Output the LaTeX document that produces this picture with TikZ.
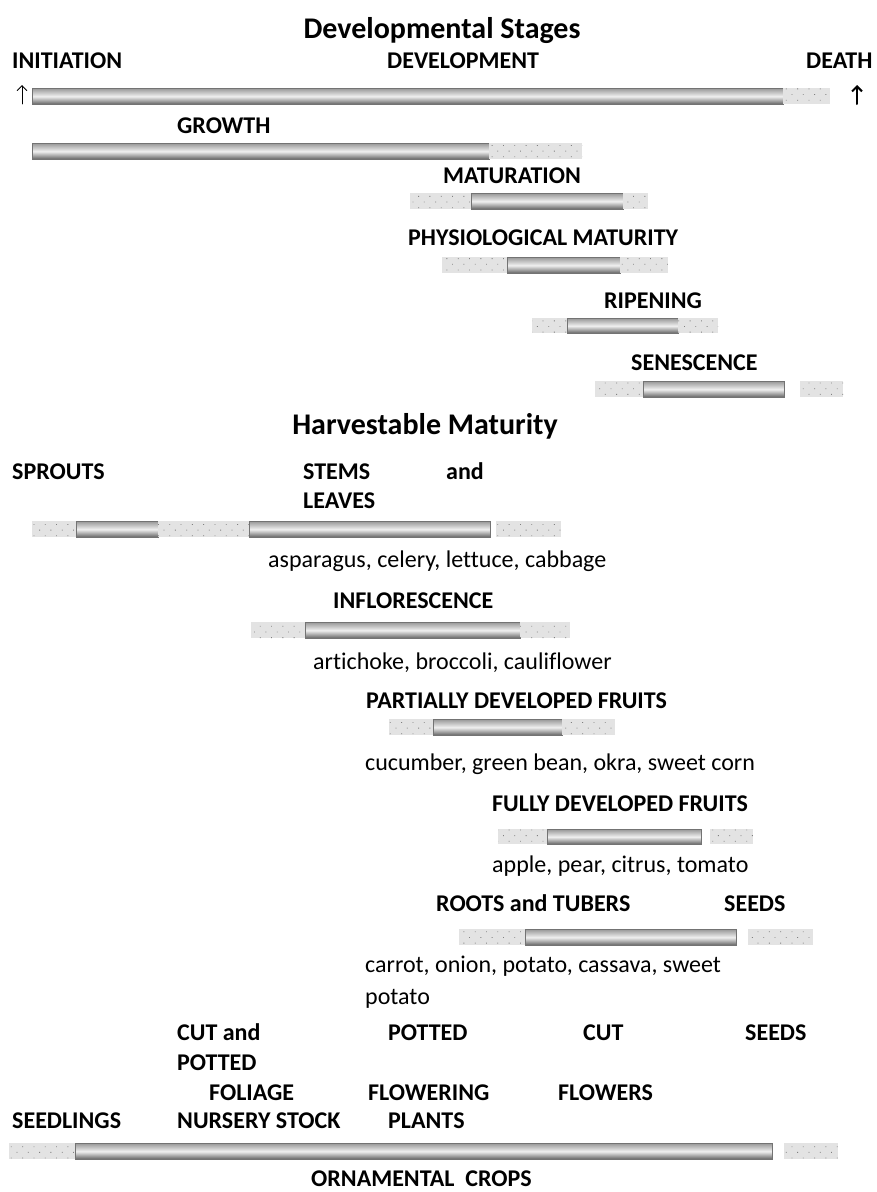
\documentclass[tikz,border=0pt]{standalone}
\usepackage{fontspec}
\setmainfont{Carlito}[Ligatures=NoCommon]
\usetikzlibrary{patterns.meta,arrows.meta}
\newcommand\mkseg[6]{\node[#1, anchor=north west, minimum width={(#4-#3)*1pt}, minimum height={(#6-#5)*1pt}] (#2) at (#3,#5) {};}
\begin{document}
\begin{tikzpicture}[x=1pt,y=-1pt,
 lab/.style={font=\fontsize{24}{28}\selectfont\bfseries, anchor=base west, inner sep=0pt},
 txt/.style={font=\fontsize{24}{28}\selectfont, anchor=base west, inner sep=0pt},
 ttl/.style={font=\fontsize{30}{34}\selectfont\bfseries, anchor=base, inner sep=0pt},
 gbar/.style={draw=black!55, line width=0.7pt, inner sep=0pt, top color=black!40, bottom color=black!62, middle color=black!6},
 dseg/.style={draw=none, inner sep=0pt, preaction={fill=black!11}, pattern={Dots[radius=0.6pt, distance=8pt, angle=45]}, pattern color=black!50},
 uparrow/.style={-{Straight Barb[length=5pt,width=10pt]}, line cap=round}
]
\useasboundingbox[fill=white] (0,0) rectangle (877,1192);

% ---- Developmental stages ----
\node[ttl] (t1) at (442,38) {Developmental Stages};
\node[lab] (init) at (12,68) {INITIATION};
\node[lab] (devl) at (387,68) {DEVELOPMENT};
\node[lab] (death) at (806,68) {DEATH};
\coordinate (aL0) at (22,104); \coordinate (aL1) at (22,85);
\draw[uparrow, line width=0.9pt] (aL0) -- (aL1);
\coordinate (aR0) at (857,104); \coordinate (aR1) at (857,85);
\draw[uparrow, line width=2pt] (aR0) -- (aR1);
\mkseg{gbar}{b1g}{32}{783}{88}{104}
\mkseg{dseg}{b1d}{783}{830}{88}{104}

\node[lab] (growth) at (177,133) {GROWTH};
\mkseg{gbar}{b2g}{32}{489}{143}{159}
\mkseg{dseg}{b2d}{489}{582}{143}{159}

\node[lab] (matur) at (443,183) {MATURATION};
\mkseg{dseg}{b3a}{410}{471}{193}{209}
\mkseg{gbar}{b3g}{471}{623}{193}{209}
\mkseg{dseg}{b3b}{623}{648}{193}{209}

\node[lab] (phys) at (408,245) {PHYSIOLOGICAL MATURITY};
\mkseg{dseg}{b4a}{442}{507}{257}{273}
\mkseg{gbar}{b4g}{507}{620}{257}{273}
\mkseg{dseg}{b4b}{620}{668}{257}{273}

\node[lab] (ripen) at (604,308) {RIPENING};
\mkseg{dseg}{b5a}{532}{567}{318}{333}
\mkseg{gbar}{b5g}{567}{678}{318}{333}
\mkseg{dseg}{b5b}{678}{718}{318}{333}

\node[lab] (senes) at (631,370) {SENESCENCE};
\mkseg{dseg}{b6a}{595}{643}{381}{397}
\mkseg{gbar}{b6g}{643}{784}{381}{397}
\mkseg{dseg}{b6b}{800}{843}{381}{397}

% ---- Harvestable maturity ----
\node[ttl] (t2) at (425,434) {Harvestable Maturity};
\node[lab] (sprouts) at (12,479) {SPROUTS};
\node[lab] (stems) at (303,479) {STEMS};
\node[lab] (and1) at (446,479) {and};
\node[lab] (leaves) at (303,508) {LEAVES};
\mkseg{dseg}{b7a}{32}{76}{521}{537}
\mkseg{gbar}{b7g}{76}{158}{521}{537}
\mkseg{dseg}{b7b}{158}{249}{521}{537}
\mkseg{gbar}{b7h}{249}{490}{521}{537}
\mkseg{dseg}{b7c}{496}{561}{521}{537}
\node[txt] (asp) at (268,567) {asparagus, celery, lettuce, cabbage};

\node[lab] (inflo) at (333,608) {INFLORESCENCE};
\mkseg{dseg}{b8a}{251}{305}{622}{638}
\mkseg{gbar}{b8g}{305}{520}{622}{638}
\mkseg{dseg}{b8b}{520}{570}{622}{638}
\node[txt] (arti) at (313,669) {artichoke, broccoli, cauliflower};

\node[lab] (partial) at (366,708) {PARTIALLY DEVELOPED FRUITS};
\mkseg{dseg}{b9a}{389}{433}{719}{735}
\mkseg{gbar}{b9g}{433}{562}{719}{735}
\mkseg{dseg}{b9b}{562}{615}{719}{735}
\node[txt] (cuc) at (365,770) {cucumber, green bean, okra, sweet corn};

\node[lab] (fully) at (492,811) {FULLY DEVELOPED FRUITS};
\mkseg{dseg}{b10a}{498}{547}{829}{844}
\mkseg{gbar}{b10g}{547}{701}{829}{844}
\mkseg{dseg}{b10b}{710}{753}{829}{844}
\node[txt] (apple) at (492,872) {apple, pear, citrus, tomato};

\node[lab] (roots) at (436,911) {ROOTS and TUBERS};
\node[lab] (seeds1) at (724,911) {SEEDS};
\mkseg{dseg}{b11a}{459}{525}{929}{945}
\mkseg{gbar}{b11g}{525}{736}{929}{945}
\mkseg{dseg}{b11b}{748}{813}{929}{945}
\node[txt] (carrot) at (365,972) {carrot, onion, potato, cassava, sweet};
\node[txt] (potato) at (365,1004) {potato};

% ---- Ornamental crops ----
\node[lab] (cutand) at (177,1040) {CUT and};
\node[lab] (potted1) at (388,1040) {POTTED};
\node[lab] (cut) at (583,1040) {CUT};
\node[lab] (seeds2) at (745,1040) {SEEDS};
\node[lab] (potted2) at (177,1070) {POTTED};
\node[lab] (foliage) at (209,1100) {FOLIAGE};
\node[lab] (flowering) at (368,1100) {FLOWERING};
\node[lab] (flowers) at (558,1100) {FLOWERS};
\node[lab] (seedlings) at (12,1128) {SEEDLINGS};
\node[lab] (nursery) at (177,1128) {NURSERY STOCK};
\node[lab] (plants) at (388,1128) {PLANTS};
\mkseg{dseg}{b12a}{9}{75}{1143}{1159}
\mkseg{gbar}{b12g}{75}{772}{1143}{1159}
\mkseg{dseg}{b12b}{784}{838}{1143}{1159}
\node[lab] (orn) at (311,1186) {ORNAMENTAL\ \ CROPS};
\end{tikzpicture}
\end{document}
